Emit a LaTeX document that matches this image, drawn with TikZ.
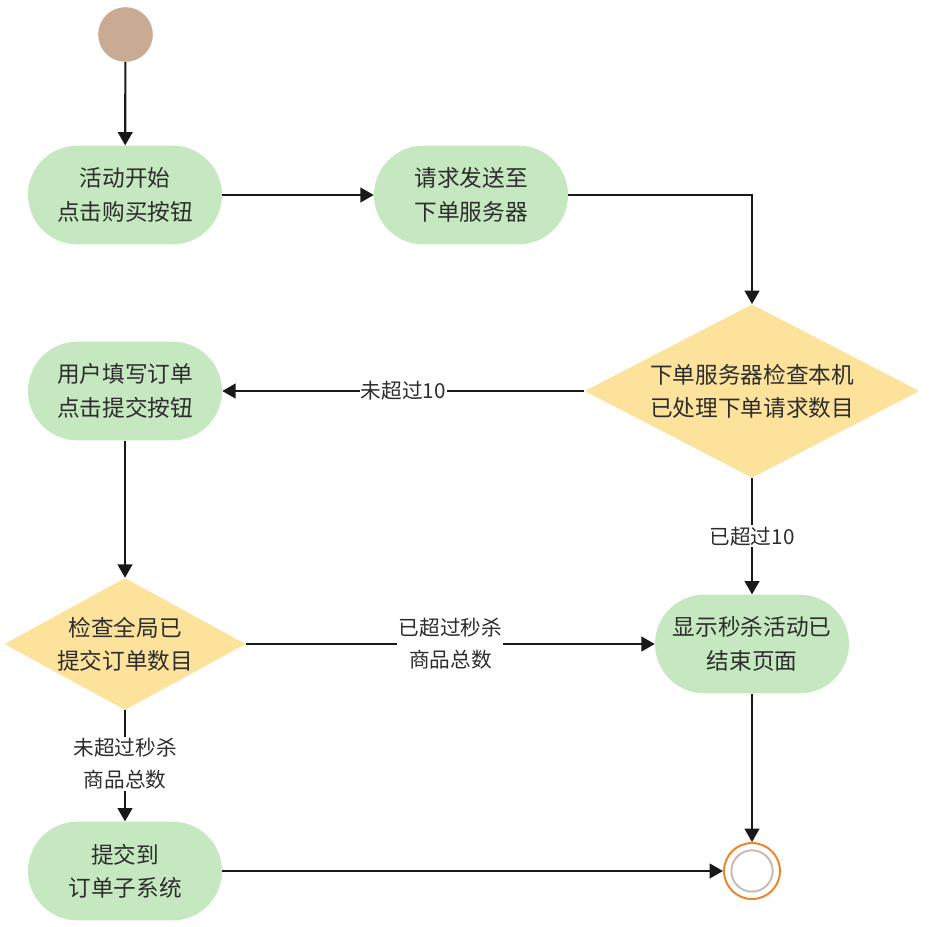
\documentclass[tikz,border=0pt]{standalone}
\usepackage{fontspec}
\setmainfont{Noto Sans CJK SC}
\usetikzlibrary{shapes.geometric, arrows.meta}
\definecolor{actgreen}{RGB}{198,232,192}
\definecolor{decyellow}{RGB}{252,226,154}
\definecolor{starttan}{RGB}{201,170,146}
\definecolor{endorange}{RGB}{236,134,44}
\definecolor{endgrey}{RGB}{200,188,178}
\definecolor{textgrey}{RGB}{45,45,45}
\definecolor{linegrey}{RGB}{25,25,25}
\begin{document}
\begin{tikzpicture}[x=0.75pt, y=-0.75pt, text=textgrey,
        font=\fontsize{17}{25}\selectfont,
        activity/.style={draw=none, fill=actgreen, rectangle, rounded corners=37pt, minimum width=145.5pt, minimum height=74pt, align=center},
        decision/.style={draw=none, fill=decyellow, diamond, inner sep=0pt, align=center},
        flow/.style={draw=linegrey, line width=1.6pt, -{Triangle[length=10pt, width=11pt]}},
        guard/.style={fill=white, inner sep=1pt, align=center, font=\fontsize{15.5}{24}\selectfont}]
        \useasboundingbox (0, 0) rectangle (931, 926);

        % start and end
        \node[circle, fill=starttan, minimum size=41pt, inner sep=0pt] (start) at (125.5, 34.5) {};
        \node[circle, draw=endorange, line width=1.5pt, minimum size=42pt, inner sep=0pt] (finish) at (752, 871) {};
        \node[circle, draw=endgrey, line width=1.5pt, minimum size=31pt, inner sep=0pt] at (752, 871) {};

        % activities
        \node[activity] (buy) at (125, 195) {活动开始\\点击购买按钮};
        \node[activity] (send) at (471, 195) {请求发送至\\下单服务器};
        \node[activity] (fill) at (125, 391) {用户填写订单\\点击提交按钮};
        \node[activity] (over) at (752, 644) {显示秒杀活动已\\结束页面};
        \node[activity] (submit) at (125, 871) {提交到\\订单子系统};

        % decisions
        \node[decision, aspect=1.94, minimum width=251pt, minimum height=130pt] (local) at (752, 391) {下单服务器检查本机\\已处理下单请求数目};
        \node[decision, aspect=1.83, minimum width=181pt, minimum height=99pt] (global) at (125, 644) {检查全局已\\提交订单数目};

        % connectors
        \draw[flow] (start) -- (buy);
        \draw[flow] (buy) -- (send);
        \draw[flow] (send.east) -| (local.north);
        \draw[flow] (local.west) -- node[guard] {未超过10} (fill.east);
        \draw[flow] (local.south) -- node[guard, pos=0.5] {已超过10} (over.north);
        \draw[flow] (fill) -- (global.north);
        \draw[flow] (global.east) -- node[guard] {已超过秒杀\\商品总数} (over.west);
        \draw[flow] (global.south) -- node[guard, pos=0.48] {未超过秒杀\\商品总数} (submit.north);
        \draw[flow] (over) -- (finish.north);
        \draw[flow] (submit) -- (finish.west);
    \end{tikzpicture}
\end{document}
